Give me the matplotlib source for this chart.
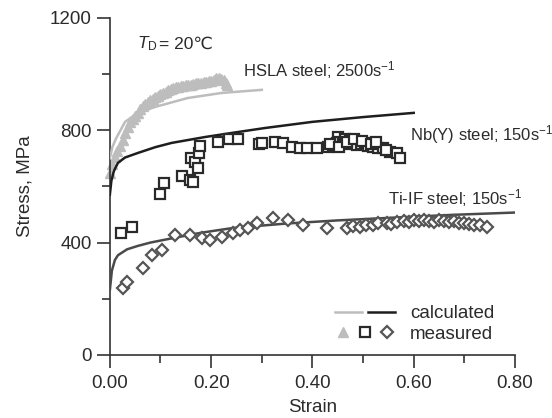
import matplotlib.pyplot as plt
from matplotlib.lines import Line2D
from matplotlib.legend_handler import HandlerTuple

plt.rcParams['font.family'] = ['Liberation Sans', 'DejaVu Sans']
plt.rcParams['mathtext.fontset'] = 'custom'
plt.rcParams['mathtext.rm'] = 'Liberation Sans'
plt.rcParams['mathtext.it'] = 'Liberation Sans:italic'

# HSLA steel, 2500 s^-1
hsla_calc_x = [0.0, 0.005, 0.012, 0.03, 0.055, 0.089, 0.154, 0.221, 0.30]
hsla_calc_y = [700, 740, 770, 830, 862, 883, 915, 933, 944]
hsla_meas_x = [0.0, 0.005, 0.01, 0.015, 0.02, 0.025, 0.03, 0.035, 0.04, 0.045,
               0.05, 0.055, 0.06, 0.065, 0.07, 0.075, 0.08, 0.085, 0.09, 0.095,
               0.1, 0.105, 0.11, 0.115, 0.12, 0.125, 0.13, 0.135, 0.14, 0.145,
               0.15, 0.155, 0.16, 0.165, 0.17, 0.175, 0.18, 0.185, 0.19, 0.195,
               0.2, 0.205, 0.21, 0.215, 0.22, 0.225, 0.23, 0.232]
hsla_meas_y = [648, 680, 705, 725, 745, 765, 790, 812, 828, 840,
               852, 862, 875, 885, 893, 900, 907, 913, 918, 922,
               928, 933, 938, 944, 948, 950, 953, 955, 957, 958,
               960, 962, 963, 966, 967, 968, 970, 971, 973, 975,
               977, 980, 985, 987, 983, 978, 970, 960]

# Nb(Y) steel, 150 s^-1
nb_calc_x = [0.0, 0.003, 0.008, 0.016, 0.03, 0.055, 0.09, 0.122, 0.188, 0.25,
             0.306, 0.4, 0.5, 0.6]
nb_calc_y = [570, 620, 655, 684, 703, 719, 740, 755, 776, 793,
             808, 830, 847, 862]
nb_meas_x = [0.022, 0.044, 0.10, 0.107, 0.142, 0.158, 0.164, 0.16, 0.168, 0.174,
             0.176, 0.178, 0.213, 0.235, 0.253, 0.294, 0.30, 0.326, 0.342, 0.36,
             0.375, 0.39, 0.41, 0.43, 0.44, 0.448, 0.45, 0.455, 0.46, 0.465,
             0.47, 0.474, 0.48, 0.488, 0.495, 0.504, 0.51, 0.52, 0.53, 0.54,
             0.553, 0.567, 0.573, 0.435, 0.452, 0.468, 0.483, 0.498, 0.515,
             0.525, 0.545]
nb_meas_y = [434, 456, 573, 612, 637, 623, 616, 701, 687, 666,
             719, 744, 759, 769, 769, 751, 755, 759, 755, 741,
             737, 737, 737, 741, 748, 755, 776, 760, 755, 768,
             750, 765, 758, 748, 752, 755, 745, 741, 738, 737,
             723, 719, 701, 752, 742, 760, 770, 762, 750,
             758, 730]

# Ti-IF steel, 150 s^-1
ti_calc_x = [0.0, 0.004, 0.01, 0.016, 0.034, 0.055, 0.08, 0.122, 0.18, 0.243,
             0.35, 0.45, 0.573, 0.68, 0.8]
ti_calc_y = [230, 300, 338, 355, 376, 388, 400, 415, 435, 452,
             468, 479, 490, 499, 507]
ti_meas_x = [0.026, 0.034, 0.065, 0.083, 0.103, 0.128, 0.158, 0.182, 0.198, 0.221,
             0.243, 0.257, 0.273, 0.29, 0.322, 0.352, 0.381, 0.428, 0.468, 0.48,
             0.494, 0.505, 0.52, 0.53, 0.547, 0.555, 0.567, 0.58, 0.59, 0.60,
             0.61, 0.62, 0.63, 0.64, 0.65, 0.66, 0.67, 0.68, 0.69, 0.70,
             0.71, 0.72, 0.73, 0.745]
ti_meas_y = [239, 260, 310, 356, 374, 427, 427, 417, 410, 420,
             434, 445, 452, 470, 488, 481, 463, 452, 452, 458,
             456, 462, 463, 468, 470, 466, 474, 478, 472, 480,
             476, 482, 478, 474, 480, 476, 472, 476, 470, 468,
             466, 462, 464, 456]

fig = plt.figure(figsize=(5.52, 4.18), dpi=100)
ax = fig.add_axes([0.199, 0.151, 0.734, 0.806])

c_hsla = '#bdbdbd'
c_nb = '#1e1e1e'
c_ti = '#4a4a4a'
c_txt = '#2b2b2b'

ax.plot(hsla_meas_x, hsla_meas_y, linestyle='none', marker='^', markersize=7,
        color=c_hsla, clip_on=False, zorder=2)
ax.plot(hsla_calc_x, hsla_calc_y, '-', color=c_hsla, linewidth=1.8, zorder=3)
ax.plot(nb_calc_x, nb_calc_y, '-', color=c_nb, linewidth=1.8, zorder=3)
ax.plot(ti_calc_x, ti_calc_y, '-', color=c_ti, linewidth=1.8, zorder=3)
ax.plot(nb_meas_x, nb_meas_y, linestyle='none', marker='s', markersize=7,
        markerfacecolor='white', markeredgecolor='#2a2a2a', markeredgewidth=1.6, zorder=4)
ax.plot(ti_meas_x, ti_meas_y, linestyle='none', marker='D', markersize=6,
        markerfacecolor='white', markeredgecolor='#555555', markeredgewidth=1.6, zorder=4)

ax.set_xlim(0, 0.8)
ax.set_ylim(0, 1200)
ax.set_xticks([0, 0.2, 0.4, 0.6, 0.8])
ax.set_xticklabels(['0.00', '0.20', '0.40', '0.60', '0.80'])
ax.set_xticks([0.1, 0.3, 0.5, 0.7], minor=True)
ax.set_yticks([0, 400, 800, 1200])
ax.set_yticks([200, 600, 1000], minor=True)
ax.spines['top'].set_visible(False)
ax.spines['right'].set_visible(False)
for s in ['left', 'bottom']:
    ax.spines[s].set_linewidth(1.2)
    ax.spines[s].set_color('#333333')
ax.tick_params(which='major', direction='out', length=9.5, width=1.2,
               labelsize=13.5, colors='#333333', labelcolor=c_txt)
ax.tick_params(axis='x', which='major', pad=5)
ax.tick_params(which='minor', direction='out', length=6, width=1.2, colors='#333333')
ax.set_xlabel('Strain', fontsize=13.5, labelpad=5, color=c_txt)
ax.set_ylabel('Stress, MPa', fontsize=13.5, labelpad=12, color=c_txt)

ax.text(0.053, 1108, r'$T_{\mathrm{D}}$', fontsize=12.5, va='center', color=c_txt)
ax.text(0.098, 1108, '= 20℃', fontsize=12.5, va='center', color=c_txt,
        family=['Liberation Sans', 'DejaVu Sans'])
ax.text(0.263, 1015, 'HSLA steel; 2500s$^{-1}$', fontsize=12, va='center', color=c_txt)
ax.text(0.593, 783, 'Nb(Y) steel; 150s$^{-1}$', fontsize=12, va='center',
        color=c_txt, clip_on=False)
ax.text(0.549, 559, 'Ti-IF steel; 150s$^{-1}$', fontsize=12, va='center', color=c_txt)

h_calc = (Line2D([], [], color=c_hsla, linewidth=1.8),
          Line2D([], [], color=c_nb, linewidth=1.8))
h_meas = (Line2D([], [], linestyle='none', marker='^', markersize=7, color=c_hsla),
          Line2D([], [], linestyle='none', marker='s', markersize=7, markerfacecolor='white',
                 markeredgecolor='#2a2a2a', markeredgewidth=1.6),
          Line2D([], [], linestyle='none', marker='D', markersize=6, markerfacecolor='white',
                 markeredgecolor='#555555', markeredgewidth=1.6))
ax.legend([h_calc, h_meas], ['calculated', 'measured'],
          handler_map={tuple: HandlerTuple(ndivide=None, pad=0.3)},
          loc='lower right', bbox_to_anchor=(0.99, -0.015), frameon=False,
          fontsize=13.5, handlelength=3.2, labelspacing=0.2, handletextpad=0.8,
          labelcolor=c_txt)

fig.savefig('out.png', dpi=100)
